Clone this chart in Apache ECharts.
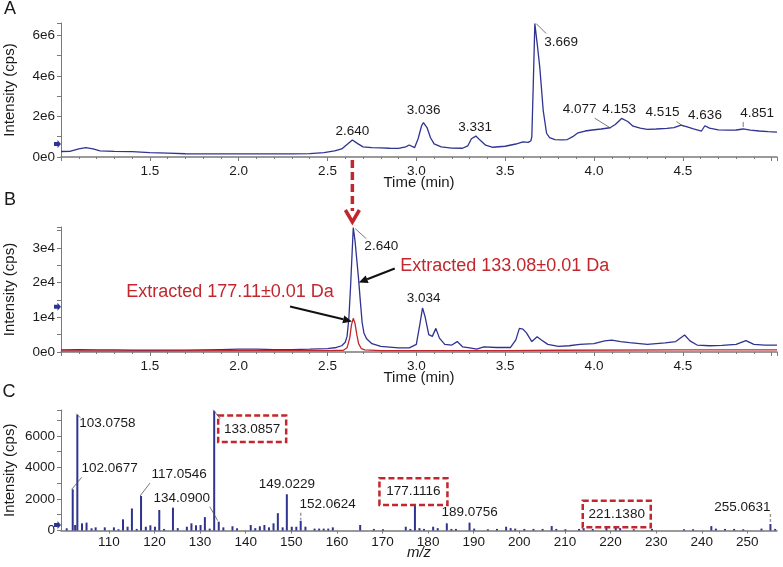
<!DOCTYPE html>
<html>
<head>
<meta charset="utf-8">
<script src="https://cdn.jsdelivr.net/npm/echarts@6/dist/echarts.min.js"></script>
<style>
  html, body { margin: 0; padding: 0; background: #fff; }
  #chart { width: 783px; height: 567px; }
</style>
</head>
<body>
<div id="chart"></div>
<script>
// ---------- Panel A: total ion chromatogram (intensity x1e6 cps) ----------
var timeA = [1.00, 1.05, 1.10, 1.14, 1.18, 1.22, 1.30, 1.40, 1.50, 1.60, 1.70, 1.80, 1.90, 2.00, 2.10, 2.20, 2.30, 2.40,
  2.48, 2.54, 2.58, 2.61, 2.64, 2.67, 2.70, 2.75, 2.80, 2.85, 2.90, 2.94, 2.96, 2.99, 3.01, 3.03, 3.04, 3.06, 3.08, 3.10,
  3.14, 3.20, 3.26, 3.29, 3.31, 3.335, 3.36, 3.39, 3.43, 3.50, 3.56, 3.60, 3.63, 3.645, 3.650, 3.658, 3.667, 3.68, 3.695,
  3.714, 3.733, 3.75, 3.78, 3.82, 3.85, 3.88, 3.91, 3.95, 3.99, 4.04, 4.09, 4.12, 4.155, 4.19, 4.22, 4.26, 4.30, 4.35,
  4.41, 4.45, 4.49, 4.52, 4.56, 4.605, 4.624, 4.65, 4.70, 4.75, 4.80, 4.84, 4.88, 4.93, 4.98, 5.03];
var ticA = [0.27, 0.28, 0.40, 0.46, 0.40, 0.30, 0.28, 0.26, 0.22, 0.19, 0.16, 0.15, 0.15, 0.15, 0.15, 0.15, 0.15, 0.17,
  0.22, 0.30, 0.40, 0.62, 0.84, 0.66, 0.50, 0.46, 0.45, 0.43, 0.42, 0.50, 0.59, 0.46, 0.90, 1.55, 1.69, 1.45, 0.95, 0.65,
  0.50, 0.44, 0.43, 0.55, 0.90, 1.03, 0.82, 0.58, 0.48, 0.53, 0.64, 0.74, 0.72, 0.80, 1.00, 3.50, 6.57, 5.60, 4.40,
  2.30, 1.17, 0.95, 0.86, 0.84, 0.86, 1.00, 1.19, 1.28, 1.33, 1.38, 1.44, 1.60, 1.90, 1.75, 1.52, 1.42, 1.36, 1.38,
  1.41, 1.45, 1.57, 1.50, 1.38, 1.28, 1.54, 1.42, 1.34, 1.32, 1.33, 1.38, 1.32, 1.28, 1.25, 1.23];
var peakTimeA = [2.640, 3.036, 3.331, 3.669, 4.077, 4.153, 4.515, 4.636, 4.851];
var peakTopA = [0.84, 1.69, 1.03, 6.57, 1.42, 1.90, 1.55, 1.54, 1.38];

// ---------- Panel B: extracted ion chromatograms (intensity x1e4 cps) ----------
var timeB = [1.00, 1.10, 1.20, 1.30, 1.40, 1.50, 1.60, 1.70, 1.80, 1.90, 2.00, 2.10, 2.20, 2.30, 2.40, 2.50, 2.55, 2.58,
  2.60, 2.61, 2.62, 2.63, 2.645, 2.655, 2.665, 2.675, 2.685, 2.695, 2.705, 2.72, 2.75, 2.80, 2.90, 2.96, 3.00, 3.02, 3.035,
  3.05, 3.07, 3.09, 3.11, 3.13, 3.16, 3.20, 3.23, 3.26, 3.30, 3.34, 3.38, 3.45, 3.53, 3.56, 3.58, 3.60, 3.62, 3.65, 3.68,
  3.70, 3.74, 3.80, 3.86, 3.92, 4.00, 4.06, 4.10, 4.15, 4.20, 4.30, 4.40, 4.46, 4.51, 4.54, 4.58, 4.65, 4.72, 4.80, 4.855,
  4.90, 4.96, 5.03];
var xic133 = [0.06, 0.07, 0.06, 0.06, 0.05, 0.05, 0.05, 0.05, 0.06, 0.07, 0.08, 0.08, 0.07, 0.07, 0.08, 0.10, 0.13, 0.18,
  0.28, 0.45, 0.95, 1.90, 3.58, 3.20, 2.65, 2.10, 1.45, 0.85, 0.55, 0.38, 0.24, 0.16, 0.12, 0.12, 0.22, 0.80, 1.27,
  1.00, 0.50, 0.45, 0.68, 0.40, 0.22, 0.20, 0.30, 0.15, 0.12, 0.08, 0.15, 0.13, 0.13, 0.35, 0.68, 0.66, 0.55, 0.30, 0.44,
  0.36, 0.22, 0.16, 0.18, 0.22, 0.24, 0.32, 0.34, 0.30, 0.27, 0.22, 0.26, 0.30, 0.49, 0.32, 0.20, 0.18, 0.19, 0.22, 0.33,
  0.22, 0.20, 0.20];
var timeB177 = [1.00, 1.50, 2.00, 2.50, 2.59, 2.61, 2.625, 2.635, 2.645, 2.655, 2.665, 2.675, 2.69, 2.71, 2.80, 3.50, 3.80, 4.50, 5.03];
var xic177 = [0.03, 0.03, 0.04, 0.04, 0.05, 0.12, 0.40, 0.78, 0.97, 0.82, 0.50, 0.24, 0.10, 0.06, 0.04, 0.04, 0.05, 0.06, 0.06];
var peakTimeB = [2.645, 3.035];
var peakTopB = [3.58, 1.27];
var peakTextB = ['2.640', '3.034'];
var extractedText = ['Extracted 133.08\u00b10.01 Da', 'Extracted 177.11\u00b10.01 Da'];
var extractedTarget = [[2.676, 2.0], [2.638, 0.88]];

// ---------- Panel C: mass spectrum ----------
var mzC = [100.75, 102.07, 102.6, 103.08, 104.1, 105.1, 106.2, 107.1, 109.1, 111.1, 112.1, 113.1, 114.1, 115.05, 116.1,
  117.05, 118.1, 119.1, 120.1, 121.05, 122.1, 124.05, 125.1, 127.1, 128.1, 129.1, 130.1, 131.05, 132.1, 133.09, 134.09,
  135.1, 137.1, 138.1, 141.1, 142.1, 143.1, 144.1, 145.1, 146.1, 147.05, 148.1, 149.02, 150.1, 151.1, 152.06, 153.1,
  155.1, 156.1, 157.1, 158.1, 159.1, 165.1, 168.1, 170.1, 175.1, 176.1, 177.11, 178.1, 179.1, 181.1, 182.1, 184.1, 185.1,
  186.1, 189.08, 190.1, 193.1, 195.1, 197.1, 198.1, 199.1, 201.1, 203.1, 205.1, 207.1, 208.1, 210.1, 213.1, 214.1, 216.1,
  219.1, 221.14, 222.1, 225.1, 229.1, 236.1, 238.1, 242.1, 243.1, 245.1, 247.1, 249.1, 253.1, 255.06, 256.1];
var intC = [140, 2615, 350, 7350, 455, 500, 140, 200, 200, 200, 80, 710, 240, 1400, 100,
  2190, 240, 330, 240, 1300, 100, 1450, 150, 240, 455, 330, 350, 850, 120, 7600, 560,
  200, 270, 140, 350, 150, 270, 350, 200, 455, 1100, 200, 2300, 240, 240, 620, 240,
  120, 120, 120, 120, 200, 350, 100, 80, 240, 100, 1830, 150, 100, 240, 150, 455, 100,
  100, 500, 120, 80, 100, 240, 150, 120, 100, 100, 100, 280, 100, 80, 100, 150, 100,
  200, 380, 150, 80, 100, 80, 80, 280, 120, 100, 100, 80, 120, 410, 100];
var mzTicks = [110, 120, 130, 140, 150, 160, 170, 180, 190, 200, 210, 220, 230, 240, 250];
var peakTextC = ['103.0758', '102.0677', '117.0546', '134.0900', '133.0857', '149.0229', '152.0624',
  '177.1116', '189.0756', '221.1380', '255.0631'];
var boxedC = ['133.0857', '177.1116', '221.1380'];

var navy = '#2f3391';
var red = '#c1272d';
var ink = '#1a1a1a';
var axisGray = '#7a7a7a';
var font = '"Liberation Sans", Arial, sans-serif';

function zip(xs, ys, k) {
  return xs.map(function(x, i) { return [x, ys[i] * k]; });
}

function timeAxis(grid) {
  return {
    type: 'value', gridIndex: grid, min: 1.0, max: 5.03, interval: 0.5,
    name: 'Time (min)', nameLocation: 'middle', nameGap: 18, nameMoveOverlap: false,
    nameTextStyle: { fontSize: 15, color: ink, fontFamily: font },
    axisLine: { onZero: false, lineStyle: { color: axisGray, width: 1.5 } },
    axisTick: { length: 4, lineStyle: { color: axisGray } },
    minorTick: { show: true, splitNumber: 5, length: 2, lineStyle: { color: axisGray } },
    axisLabel: {
      fontSize: 13.5, color: ink, fontFamily: font, margin: 7,
      formatter: function(v) { return (v < 1.01 || v > 4.99) ? '' : v.toFixed(1); }
    },
    splitLine: { show: false }
  };
}

function intensityAxis(grid, max, step, labelStep, fmt) {
  return {
    type: 'value', gridIndex: grid, min: 0, max: max, interval: step,
    name: 'Intensity (cps)', nameLocation: 'middle', nameGap: 44, nameRotate: 90, nameMoveOverlap: false,
    nameTextStyle: { fontSize: 15, color: ink, fontFamily: font },
    axisLine: { show: true, onZero: false, lineStyle: { color: axisGray, width: 1 } },
    axisTick: { show: true, length: 4, lineStyle: { color: axisGray } },
    axisLabel: {
      fontSize: 13.5, color: ink, fontFamily: font, margin: 6,
      formatter: function(v) {
        if (Math.abs(v / labelStep - Math.round(v / labelStep)) > 1e-6) return '';
        return fmt(v);
      }
    },
    splitLine: { show: false }
  };
}

var chart = echarts.init(document.getElementById('chart'), null, { renderer: 'canvas' });

chart.setOption({
  animation: false,
  backgroundColor: '#fff',
  grid: [
    { left: 61, right: 6, top: 23, height: 134, outerBoundsMode: 'none' },
    { left: 61, right: 6, top: 227, height: 125, outerBoundsMode: 'none' },
    { left: 61, right: 6, top: 410, height: 120.5, outerBoundsMode: 'none' }
  ],
  xAxis: [
    timeAxis(0),
    timeAxis(1),
    {
      type: 'value', gridIndex: 2, min: 99.5, max: 256.5,
      name: 'm/z', nameLocation: 'middle', nameGap: 15, nameMoveOverlap: false,
      nameTextStyle: { fontSize: 15, color: ink, fontFamily: font, fontStyle: 'italic' },
      axisLine: { onZero: false, lineStyle: { color: axisGray, width: 1.5 } },
      axisTick: { length: 3, customValues: mzTicks, lineStyle: { color: axisGray } },
      axisLabel: { fontSize: 13.5, color: ink, fontFamily: font, margin: 5, customValues: mzTicks },
      splitLine: { show: false }
    }
  ],
  yAxis: [
    intensityAxis(0, 6.6e6, 1e6, 2e6, function(v) { return v === 0 ? '0e0' : Math.round(v / 1e6) + 'e6'; }),
    intensityAxis(1, 3.6e4, 0.5e4, 1e4, function(v) { return v === 0 ? '0e0' : Math.round(v / 1e4) + 'e4'; }),
    intensityAxis(2, 7650, 1000, 2000, function(v) { return String(v); })
  ],
  series: [
    {
      type: 'line', xAxisIndex: 0, yAxisIndex: 0, showSymbol: false, silent: true,
      lineStyle: { color: navy, width: 1.3 }, data: zip(timeA, ticA, 1e6)
    },
    {
      type: 'line', xAxisIndex: 1, yAxisIndex: 1, showSymbol: false, silent: true,
      lineStyle: { color: navy, width: 1.3 }, data: zip(timeB, xic133, 1e4)
    },
    {
      type: 'line', xAxisIndex: 1, yAxisIndex: 1, showSymbol: false, silent: true,
      lineStyle: { color: red, width: 1.3 }, data: zip(timeB177, xic177, 1e4)
    },
    {
      type: 'bar', xAxisIndex: 2, yAxisIndex: 2, barWidth: 2, silent: true,
      itemStyle: { color: navy }, data: zip(mzC, intC, 1)
    }
  ]
});

// ---------- annotations, placed from the axes' own pixel conversion ----------
var g = [];
function pt(grid, x, y) { return chart.convertToPixel({ gridIndex: grid }, [x, y]); }
function txt(x, y, s, opt) {
  opt = opt || {};
  g.push({
    type: 'text', x: x, y: y, zlevel: 1, z: 3, silent: true,
    style: {
      text: s, fill: opt.color || ink,
      font: (opt.size || 13.5) + 'px ' + font,
      align: opt.align || 'center', textAlign: opt.align || 'center',
      verticalAlign: 'middle', textVerticalAlign: 'middle'
    }
  });
}
function seg(x1, y1, x2, y2, color, w, dash) {
  g.push({
    type: 'line', zlevel: 1, z: 2, silent: true,
    shape: { x1: x1, y1: y1, x2: x2, y2: y2 },
    style: { stroke: color, lineWidth: w, lineDash: dash || null }
  });
}
function arrow(x1, y1, x2, y2, color, w, head) {
  var dx = x2 - x1, dy = y2 - y1, len = Math.sqrt(dx * dx + dy * dy);
  var ux = dx / len, uy = dy / len;
  var bx = x2 - ux * head, by = y2 - uy * head;
  seg(x1, y1, bx, by, color, w);
  g.push({
    type: 'polygon', zlevel: 1, z: 2, silent: true,
    shape: { points: [[x2, y2], [bx - uy * head * 0.45, by + ux * head * 0.45], [bx + uy * head * 0.45, by - ux * head * 0.45]] },
    style: { fill: color }
  });
}

// panel letters
txt(10, 9, 'A', { size: 18, align: 'center' });
txt(10, 200, 'B', { size: 18, align: 'center' });
txt(9, 392, 'C', { size: 18, align: 'center' });

// panel A peak labels
var labelOffA = [[0, -9], [1, -12], [0, -9], [26, 19], [-28, -19], [-2, -9], [-23, -13], [-2, -10], [12, -16]];
var leaderA = { 3: [[1, 0], [11, 10]], 4: [[3, 0], [-13, -10]], 6: [[-2, 1], [-9, -4]], 8: [[-2, -2], [-2, -7]] };
peakTimeA.forEach(function(t, i) {
  var p = pt(0, t, peakTopA[i] * 1e6);
  txt(p[0] + labelOffA[i][0], p[1] + labelOffA[i][1], t.toFixed(3));
  var l = leaderA[i];
  if (l) seg(p[0] + l[0][0], p[1] + l[0][1], p[0] + l[1][0], p[1] + l[1][1], '#555', 0.8);
});

// panel B peak labels
var labelOffB = [[28, 19], [1, -10]];
peakTimeB.forEach(function(t, i) {
  var p = pt(1, t, peakTopB[i] * 1e4);
  txt(p[0] + labelOffB[i][0], p[1] + labelOffB[i][1], peakTextB[i]);
  if (i === 0) seg(p[0] + 2, p[1] + 1, p[0] + 13, p[1] + 11, '#555', 0.8);
});

// extracted-ion callouts
var calloutText = [[146, -17], [-122, -29]];
var calloutStart = [[36, -14], [-62, -15]];
extractedTarget.forEach(function(tg, i) {
  var p = pt(1, tg[0], tg[1] * 1e4);
  txt(p[0] + calloutText[i][0], p[1] + calloutText[i][1], extractedText[i], { size: 18, color: red });
  arrow(p[0] + calloutStart[i][0], p[1] + calloutStart[i][1], p[0], p[1], '#111', 2, 9);
});

// dashed red arrow linking panel A peak to panel B
(function() {
  var top = pt(0, peakTimeA[0], 0);
  var bot = pt(1, peakTimeA[0], 3.6e4);
  var x = top[0];
  seg(x, top[1] + 3, x, bot[1] - 16, red, 3.5, [8, 4]);
  g.push({
    type: 'polyline', zlevel: 1, z: 2, silent: true,
    shape: { points: [[x - 7, bot[1] - 17], [x, bot[1] - 5], [x + 7, bot[1] - 17]] },
    style: { stroke: red, lineWidth: 3.5, fill: null }
  });
})();

// panel C peak labels
var labelOffC = [[30, 9], [37, -21], [38, -22], [-37, -23], [38, 18], [0, -10], [27, -16], [-1.5, -10], [0, -10], [1, -10.5], [-28, -17]];
var leaderC = {
  '103.0758': [[-1, -1], [3, 3], false], '102.0677': [[-1, 0], [9, -12], false], '117.0546': [[-1, 0], [9, -13], false],
  '134.0900': [[-9, -15], [-1, -1], false], '133.0857': [[-1, -1], [6, 8], false],
  '152.0624': [[0, -8], [0, -1], true], '255.0631': [[0, -10], [0, -2], true]
};
peakTextC.forEach(function(s, i) {
  var mz = parseFloat(s), best = 0;
  mzC.forEach(function(m, j) { if (Math.abs(m - mz) < Math.abs(mzC[best] - mz)) best = j; });
  var p = pt(2, mzC[best], intC[best]);
  var cx = p[0] + labelOffC[i][0], cy = p[1] + labelOffC[i][1];
  if (boxedC.indexOf(s) >= 0) {
    g.push({
      type: 'rect', zlevel: 1, z: 1, silent: true,
      shape: { x: cx - 34, y: cy - 13.3, width: 68, height: 26.6 },
      style: { fill: '#ffffff', stroke: red, lineWidth: 2.5, lineDash: [6, 3] }
    });
  }
  txt(cx, cy, s);
  var l = leaderC[s];
  if (l) seg(p[0] + l[0][0], p[1] + l[0][1], p[0] + l[1][0], p[1] + l[1][1], l[2] ? '#999' : '#555', l[2] ? 1.5 : 0.8, l[2] ? [3, 2] : null);
});

// small threshold markers on the intensity axes
var markerVals = [[0, 0.64e6], [1, 1.3e4], [2, 350]];
markerVals.forEach(function(m) {
  var p = pt(m[0], m[0] === 2 ? 99.5 : 1.0, m[1]);
  g.push({
    type: 'polygon', zlevel: 1, z: 2, silent: true,
    shape: { points: [[p[0] - 7, p[1] - 2], [p[0] - 3.5, p[1] - 2], [p[0] - 3.5, p[1] - 4], [p[0], p[1]], [p[0] - 3.5, p[1] + 4], [p[0] - 3.5, p[1] + 2], [p[0] - 7, p[1] + 2]] },
    style: { fill: navy }
  });
});

chart.setOption({ graphic: g });
</script>
</body>
</html>
